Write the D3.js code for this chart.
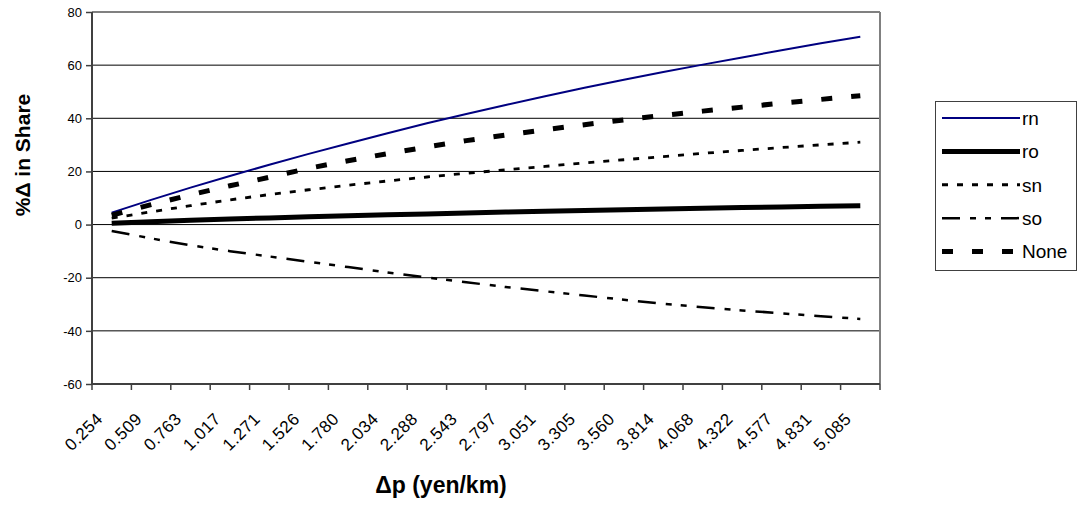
<!DOCTYPE html>
<html>
<head>
<meta charset="utf-8">
<script src="https://cdn.jsdelivr.net/npm/d3@7"></script>
<style>
  html, body { margin: 0; padding: 0; background: #fff; }
  svg { display: block; font-family: "Liberation Sans", Arial, sans-serif; }
</style>
</head>
<body>
<svg id="chart" width="1080" height="508"></svg>
<script>
// ---- data ----
const categories = ["0.254","0.509","0.763","1.017","1.271","1.526","1.780","2.034","2.288","2.543",
                    "2.797","3.051","3.305","3.560","3.814","4.068","4.322","4.577","4.831","5.085"];
const rn   = [4.5, 9.3, 13.9, 18.3, 22.5, 26.6, 30.5, 34.4, 38.1, 41.6, 45.0, 48.3, 51.5, 54.5, 57.4, 60.2, 62.9, 65.6, 68.2, 70.7];
const ro   = [0.5, 1.1, 1.6, 2.1, 2.5, 2.9, 3.3, 3.7, 4.0, 4.4, 4.7, 5.0, 5.3, 5.6, 5.9, 6.1, 6.4, 6.6, 6.9, 7.1];
const sn   = [2.4, 4.8, 7.1, 9.3, 11.3, 13.1, 14.8, 16.4, 17.9, 19.3, 20.6, 21.9, 23.2, 24.4, 25.6, 26.8, 27.9, 29.0, 30.0, 31.0];
const so   = [-2.4, -5.2, -7.8, -10.0, -12.0, -14.0, -16.0, -18.0, -19.9, -21.7, -23.5, -25.1, -26.7, -28.3, -29.8, -31.1, -32.3, -33.4, -34.5, -35.5];
const none = [3.5, 7.5, 11.2, 14.6, 17.8, 21.2, 24.0, 26.7, 29.2, 31.6, 33.7, 35.7, 37.6, 39.4, 41.1, 42.7, 44.2, 45.7, 47.1, 48.5];
const seriesNames = ["rn", "ro", "sn", "so", "None"];
const yTicks = [-60, -40, -20, 0, 20, 40, 60, 80];
const yTitle = "%\u0394 in Share";
const xTitle = "\u0394p (yen/km)";

// ---- styles ----
const styles = {
  rn:   { color: "#000080", width: 2,   dash: null },
  ro:   { color: "#000000", width: 5,   dash: null },
  sn:   { color: "#000000", width: 2.8, dash: "6,9" },
  so:   { color: "#000000", width: 2.5, dash: "18,10,6,9,6,10" },
  None: { color: "#000000", width: 5,   dash: "11,19" }
};
const seriesData = { rn: rn, ro: ro, sn: sn, so: so, None: none };

const svg = d3.select("#chart");
const L = 92, R = 880, T = 12, B = 384;

const x = d3.scaleBand().domain(categories).range([L, R]).padding(0);
const xb = d3.scaleLinear().domain([0, categories.length]).range([L, R]);
const y = d3.scaleLinear().domain([-60, 80]).range([B, T]);

// gridlines
svg.append("g").selectAll("line").data(yTicks.filter(v => v > -60 && v < 80)).join("line")
  .attr("x1", L).attr("x2", R)
  .attr("y1", d => y(d)).attr("y2", d => y(d))
  .attr("stroke", "#000").attr("stroke-width", 1);

// plot border top/right
svg.append("line").attr("x1", L).attr("x2", R).attr("y1", T).attr("y2", T)
  .attr("stroke", "#808080").attr("stroke-width", 2);
svg.append("line").attr("x1", R).attr("x2", R).attr("y1", T).attr("y2", B)
  .attr("stroke", "#808080").attr("stroke-width", 2);

// y axis
const yAxis = svg.append("g").attr("transform", `translate(${L},0)`)
  .call(d3.axisLeft(y).tickValues(yTicks).tickSize(6).tickPadding(4).tickFormat(d => String(d)));
yAxis.select(".domain").attr("stroke", "#404040").attr("stroke-width", 2).attr("d", `M0,${T}V${B}`);
yAxis.selectAll(".tick line").attr("stroke", "#404040").attr("stroke-width", 1.5);
yAxis.selectAll(".tick text").attr("font-size", 13).attr("fill", "#000")
  .attr("font-family", "Liberation Sans, Arial, sans-serif");

// x axis line and boundary ticks
svg.append("line").attr("x1", L).attr("x2", R).attr("y1", B).attr("y2", B)
  .attr("stroke", "#404040").attr("stroke-width", 2);
svg.append("g").selectAll("line").data(d3.range(categories.length + 1)).join("line")
  .attr("x1", d => xb(d)).attr("x2", d => xb(d)).attr("y1", B).attr("y2", B + 6)
  .attr("stroke", "#404040").attr("stroke-width", 1.5);

// x labels
svg.append("g").selectAll("text").data(categories).join("text")
  .attr("transform", d => `translate(${x(d) + x.bandwidth() / 2 - 8},${420}) rotate(-45)`)
  .attr("text-anchor", "end")
  .attr("font-size", 17)
  .attr("letter-spacing", 0.5)
  .text(d => d);

// lines
const line = d3.line().x((d, i) => x(categories[i]) + x.bandwidth() / 2).y(d => y(d));
seriesNames.forEach(name => {
  const s = styles[name];
  svg.append("path").datum(seriesData[name])
    .attr("d", line).attr("fill", "none")
    .attr("stroke", s.color).attr("stroke-width", s.width)
    .attr("stroke-dasharray", s.dash);
});

// axis titles
svg.append("text").attr("transform", "translate(30,155) rotate(-90)")
  .attr("text-anchor", "middle").attr("font-weight", "bold").attr("font-size", 21)
  .text(yTitle);
svg.append("text").attr("x", 441).attr("y", 493)
  .attr("text-anchor", "middle").attr("font-weight", "bold").attr("font-size", 23)
  .text(xTitle);

// legend
const lg = svg.append("g");
lg.append("rect").attr("x", 935.5).attr("y", 101.5).attr("width", 141).attr("height", 169)
  .attr("fill", "#fff").attr("stroke", "#404040").attr("stroke-width", 1);
const ly = d3.scalePoint().domain(seriesNames).range([118, 251.5]);
seriesNames.forEach(name => {
  const s = styles[name];
  lg.append("line").attr("x1", 942).attr("x2", 1020).attr("y1", ly(name)).attr("y2", ly(name))
    .attr("stroke", s.color).attr("stroke-width", s.width).attr("stroke-dasharray", s.dash);
  lg.append("text").attr("x", 1022).attr("y", ly(name)).attr("dy", "0.36em")
    .attr("font-size", 19).text(name);
});
</script>
</body>
</html>
